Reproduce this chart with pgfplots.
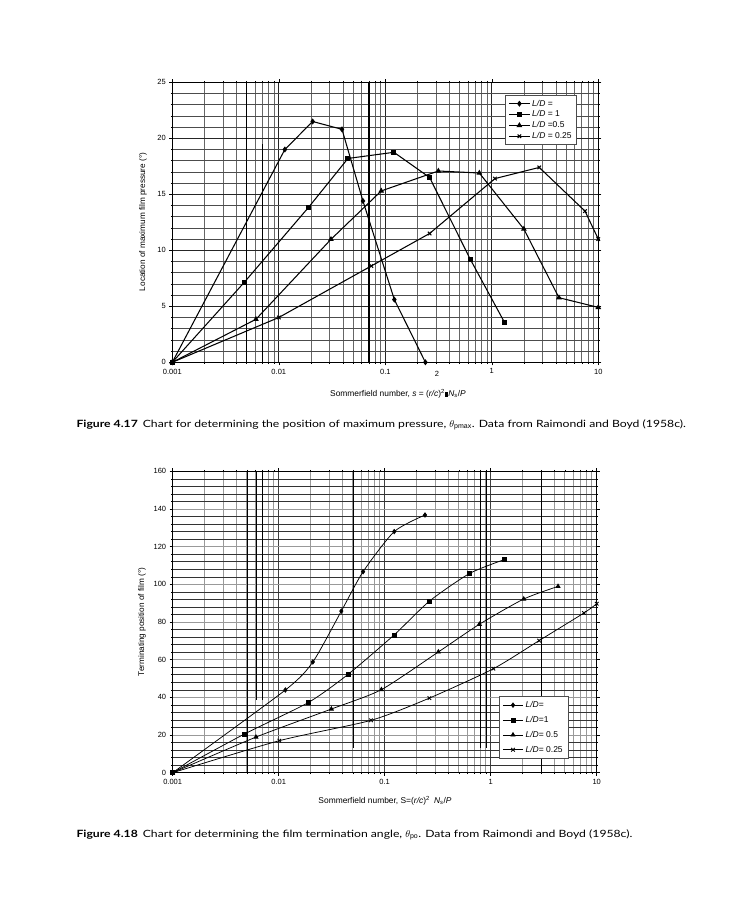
\documentclass[border=0pt]{standalone}
\usepackage{pgfplots}
\pgfplotsset{compat=1.18}
\usepackage{fontspec}
\setmainfont{Liberation Sans}
\newfontfamily\capfont[FakeStretch=1.22]{Lato}

\begin{document}
\begin{tikzpicture}
\useasboundingbox (0pt,0pt) rectangle (737pt,900pt);

% ---------------- Figure 4.17 ----------------
\begin{axis}[
  scale only axis, xmode=log, log basis x=10, xmin=0.001, xmax=10, ymin=0,
  xtick={0.001,0.01,0.1,1,10},
  xticklabels={0.001,0.01,0.1,1,10},
  minor xtick={0.002,0.003,0.004,0.005,0.006,0.007,0.008,0.009,
               0.02,0.03,0.04,0.05,0.06,0.07,0.08,0.09,
               0.2,0.3,0.4,0.5,0.6,0.7,0.8,0.9,
               2,3,4,5,6,7,8,9},
  grid=both,
  axis line style={black, line width=0.8pt},
  tick align=outside,
  tick style={black, line width=0.5pt},
  major tick length=3pt, minor tick length=1.5pt,
  ticklabel style={font=\fontsize{7.5}{8}\selectfont},
  /pgf/number format/assume math mode=true,
  clip=false,
  legend cell align=left,
  legend image code/.code={\draw[mark repeat=2,mark phase=2,#1] plot coordinates {(0cm,0cm) (0.36cm,0cm) (0.72cm,0cm)};},
  at={(172.3pt,537.7pt)}, anchor=south west,
  width=426pt, height=280pt,
  ymax=25, ytick={0,5,10,15,20,25}, minor y tick num=4,
  major x grid style={black!85, line width=0.7pt},
  minor x grid style={black!60, line width=0.7pt},
  major y grid style={black!85, line width=0.7pt},
  minor y grid style={black!70, line width=0.6pt},
  legend style={at={(0.782,0.954)}, anchor=north west, draw=black!70, fill=white,
    font=\fontsize{8.5}{9}\selectfont, row sep=-0.8pt, inner xsep=3pt, inner ysep=2.5pt},
]
\draw[line width=1.3pt] (axis cs:0.005,0) -- (axis cs:0.005,25);
\draw[line width=1.3pt] (axis cs:0.00705,0) -- (axis cs:0.00705,19.5);
\draw[line width=1.3pt] (axis cs:0.0705,0) -- (axis cs:0.0705,25);
\addplot[black, line width=1.05pt, mark=diamond*, mark size=2.2pt] coordinates {
 (0.001,0) (0.0114,19.0) (0.0208,21.5) (0.0392,20.8) (0.0617,14.4) (0.1216,5.6) (0.238,0)};
\addlegendentry{\textit{L/D} =}
\addplot[black, line width=1.05pt, mark=square*, mark size=2pt] coordinates {
 (0.001,0) (0.00474,7.14) (0.0189,13.8) (0.0446,18.2) (0.1205,18.75) (0.2606,16.5) (0.628,9.2) (1.32,3.54)};
\addlegendentry{\textit{L/D} = 1}
\addplot[black, line width=1.05pt, mark=triangle*, mark size=2.3pt] coordinates {
 (0.001,0) (0.0061,3.84) (0.0309,10.98) (0.0916,15.3) (0.315,17.08) (0.764,16.9) (2.0,11.9) (4.27,5.77) (10,4.9)};
\addlegendentry{\textit{L/D} =0.5}
\addplot[black, line width=1.05pt, mark=x, mark size=2.5pt, mark options={line width=1pt}] coordinates {
 (0.001,0) (0.01,4.0) (0.0739,8.6) (0.2606,11.5) (1.07,16.4) (2.79,17.4) (7.5,13.5) (10,11.0)};
\addlegendentry{\textit{L/D} = 0.25}
\end{axis}
\node[font=\fontsize{7.5}{8}\selectfont] at (437pt,526pt) {2};
\node[rotate=90, font=\fontsize{8.2}{9}\selectfont] at (143pt,678pt) {Location of maximum film pressure (°)};
\node[font=\fontsize{8.4}{9}\selectfont] at (398pt,506pt) {Sommerfield number, \textit{s} = (\textit{r/c})\textsuperscript{2}\rule{3.5pt}{5pt}\textit{N}\textsubscript{\textit{s}}/\textit{P}};
\node[anchor=west, font=\capfont\fontsize{10}{11}\selectfont] at (73pt,475pt) {\textbf{Figure 4.17}\enspace Chart for determining the position of maximum pressure, $\theta_{\mathrm{pmax}}$. Data from Raimondi and Boyd (1958c).};

% ---------------- Figure 4.18 ----------------
\begin{axis}[
  scale only axis, xmode=log, log basis x=10, xmin=0.001, xmax=10, ymin=0,
  xtick={0.001,0.01,0.1,1,10},
  xticklabels={0.001,0.01,0.1,1,10},
  minor xtick={0.002,0.003,0.004,0.005,0.006,0.007,0.008,0.009,
               0.02,0.03,0.04,0.05,0.06,0.07,0.08,0.09,
               0.2,0.3,0.4,0.5,0.6,0.7,0.8,0.9,
               2,3,4,5,6,7,8,9},
  grid=both,
  axis line style={black, line width=0.8pt},
  tick align=outside,
  tick style={black, line width=0.5pt},
  major tick length=3pt, minor tick length=1.5pt,
  ticklabel style={font=\fontsize{7.5}{8}\selectfont},
  /pgf/number format/assume math mode=true,
  clip=false,
  legend cell align=left,
  legend image code/.code={\draw[mark repeat=2,mark phase=2,#1] plot coordinates {(0cm,0cm) (0.36cm,0cm) (0.72cm,0cm)};},
  at={(172.7pt,127.3pt)}, anchor=south west,
  width=424pt, height=301.4pt,
  ymax=160, ytick={0,20,...,160}, minor y tick num=4,
  major x grid style={black!75, line width=0.7pt},
  minor x grid style={black!40, line width=0.8pt},
  major y grid style={black!40, line width=0.8pt},
  minor y grid style={black!80, line width=0.55pt},
  legend style={at={(0.770,0.254)}, anchor=north west, draw=black!70, fill=white,
    font=\fontsize{8.5}{9}\selectfont, row sep=3.2pt, inner xsep=3pt, inner ysep=3pt},
]
\draw[line width=0.8pt] (axis cs:0.00506,0) -- (axis cs:0.00506,160);
\draw[line width=0.8pt] (axis cs:0.0061,38.6) -- (axis cs:0.0061,160);
\draw[line width=0.8pt] (axis cs:0.0070,38.6) -- (axis cs:0.0070,160);
\draw[line width=0.8pt] (axis cs:0.0506,13) -- (axis cs:0.0506,160);
\draw[line width=0.8pt] (axis cs:0.792,13) -- (axis cs:0.792,160);
\draw[line width=0.8pt] (axis cs:0.906,13) -- (axis cs:0.906,160);
\draw[line width=0.8pt] (axis cs:2.99,0) -- (axis cs:2.99,160);
\addplot[black, line width=0.75pt, smooth, tension=0.4, mark=diamond*, mark size=2.2pt] coordinates {
 (0.001,0) (0.01156,43.9) (0.0210,58.8) (0.039,85.8) (0.0625,106.7) (0.123,128) (0.240,136.8)};
\addlegendentry{\textit{L/D}=}
\addplot[black, line width=0.75pt, smooth, tension=0.4, mark=square*, mark size=2pt] coordinates {
 (0.001,0) (0.00474,20.5) (0.0191,37.3) (0.0451,52.2) (0.1225,73.1) (0.266,91.2) (0.634,105.8) (1.34,113.1)};
\addlegendentry{\textit{L/D}=1}
\addplot[black, line width=0.75pt, smooth, tension=0.4, mark=triangle*, mark size=2.3pt] coordinates {
 (0.001,0) (0.0061,18.9) (0.0314,33.8) (0.0931,44.1) (0.321,64.1) (0.782,78.8) (2.05,92.2) (4.32,98.9)};
\addlegendentry{\textit{L/D}= 0.5}
\addplot[black, line width=0.75pt, smooth, tension=0.4, mark=x, mark size=2.5pt, mark options={line width=0.9pt}] coordinates {
 (0.001,0) (0.01014,17.0) (0.0743,27.8) (0.264,39.6) (1.06,55.2) (2.86,70.1) (7.59,84.8) (10,89.7)};
\addlegendentry{\textit{L/D}= 0.25}
\end{axis}
\node[rotate=90, font=\fontsize{8.2}{9}\selectfont] at (142pt,278pt) {Terminating position of film (°)};
\node[font=\fontsize{8.4}{9}\selectfont] at (385pt,99pt) {Sommerfield number, S=(\textit{r/c})\textsuperscript{2}\enspace\textit{N}\textsubscript{\textit{s}}/\textit{P}};
\node[anchor=west, font=\capfont\fontsize{10}{11}\selectfont] at (73pt,65pt) {\textbf{Figure 4.18}\enspace Chart for determining the film termination angle, $\theta_{\mathrm{po}}$. Data from Raimondi and Boyd (1958c).};
\end{tikzpicture}
\end{document}
